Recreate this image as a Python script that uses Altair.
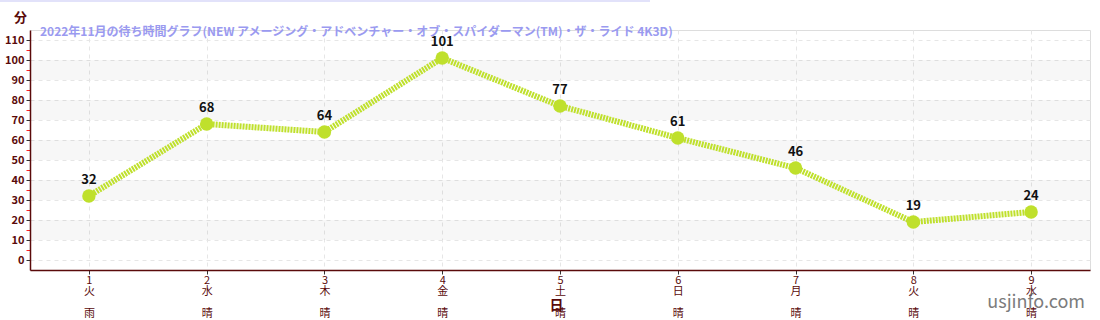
import altair as alt
import pandas as pd

days = [1, 2, 3, 4, 5, 6, 7, 8, 9]
weekdays = ["火", "水", "木", "金", "土", "日", "月", "火", "水"]
weather = ["雨", "晴", "晴", "晴", "晴", "晴", "晴", "晴", "晴"]
waits = [32, 68, 64, 101, 77, 61, 46, 19, 24]

band_lo = [10, 30, 50, 70, 90]
band_hi = [20, 40, 60, 80, 100]

title_text = "2022年11月の待ち時間グラフ(NEW アメージング・アドベンチャー・オブ・スパイダーマン(TM)・ザ・ライド 4K3D)"

FONT = "Noto Sans CJK JP"
AXIS_COL = "#5a0a0a"
LINE_COL = "#bfe02c"

df = pd.DataFrame({"day": days, "wait": waits})
bands = pd.DataFrame({"lo": band_lo, "hi": band_hi, "x0": [0.5] * 5, "x1": [9.5] * 5})

wd_js = "[" + ",".join(f"'{w}'" for w in weekdays) + "]"
wx_js = "[" + ",".join(f"'{w}'" for w in weather) + "]"

xscale = alt.Scale(domain=[0.5, 9.5], nice=False, zero=False)
yscale = alt.Scale(domain=[-5, 115], nice=False, zero=False)

x_axis = alt.Axis(
    values=days,
    labelExpr=f"[format(datum.value,'d'), {wd_js}[datum.value-1], '\u200b', {wx_js}[datum.value-1]]",
    labelLineHeight=11,
    labelFontSize=11,
    labelColor=AXIS_COL,
    labelFont=FONT,
    labelPadding=0,
    labelBaseline="top",
    labelOverlap=False,
    tickColor="#333333",
    tickSize=4,
    domainColor=AXIS_COL,
    domainWidth=1.5,
    grid=True,
    gridColor="#e6e6e6",
    gridDash=[4, 4],
    title="日",
    titleFont=FONT,
    titleFontSize=14,
    titleFontWeight="bold",
    titleColor=AXIS_COL,
    titleX=526,
    titleY=35,
    titleBaseline="middle",
)

y_values = list(range(0, 111, 5))
y_axis = alt.Axis(
    values=y_values,
    labelExpr="datum.value % 10 == 0 ? datum.label : ''",
    labelOverlap=False,
    labelFont=FONT,
    labelFontSize=11,
    labelFontWeight="bold",
    labelColor=AXIS_COL,
    labelPadding=2,
    tickColor={"expr": "datum.value % 10 == 0 ? '#333333' : '#ff2020'"},
    tickSize=4,
    domainColor=AXIS_COL,
    domainWidth=1.5,
    grid=True,
    gridColor={"expr": "datum.value % 10 == 0 ? '#e6e6e6' : 'transparent'"},
    gridDash=[4, 4],
    title="分",
    titleFont=FONT,
    titleFontSize=13,
    titleFontWeight="bold",
    titleColor=AXIS_COL,
    titleAngle=0,
    titleAlign="center",
    titleBaseline="middle",
    titleX=-10,
    titleY=-13,
)

band_layer = alt.Chart(bands).mark_rect(fill="#000000", opacity=0.03).encode(
    x=alt.X("x0:Q", scale=xscale, axis=x_axis),
    x2="x1:Q",
    y=alt.Y("lo:Q", scale=yscale, axis=y_axis),
    y2="hi:Q",
)

base = alt.Chart(df).encode(
    x=alt.X("day:Q", scale=xscale, axis=x_axis),
    y=alt.Y("wait:Q", scale=yscale, axis=y_axis),
)

line = base.mark_line(color=LINE_COL, strokeWidth=6, strokeDash=[2, 1])
points = base.mark_circle(color=LINE_COL, size=180, opacity=1)
labels = base.mark_text(
    dy=-16, font=FONT, fontSize=13, fontWeight="bold", color="#111111"
).encode(text="wait:Q")

top_line = alt.Chart(df).mark_rule(color="#e2e2fa", strokeWidth=2, clip=False).encode(
    x=alt.value(-30), x2=alt.value(620), y=alt.value(-29)
)

watermark = alt.Chart(pd.DataFrame({"t": ["usjinfo.com"]})).mark_text(
    font=FONT, fontSize=18, color="#666666", opacity=0.85, align="right", baseline="middle"
).encode(text="t:N", x=alt.value(1055), y=alt.value(33 + 240))

chart = (
    alt.layer(band_layer, line, points, labels, top_line, watermark)
    .properties(
        width=1060,
        height=240,
        padding={"left": 30, "top": 30, "right": 10, "bottom": 50},
        autosize=alt.AutoSizeParams(type="none"),
        title=alt.TitleParams(
            text=title_text,
            anchor="start",
            frame="group",
            dx=10,
            dy=39,
            offset=0,
            font=FONT,
            fontSize=12,
            fontWeight="bold",
            color="#9a9af0",
        ),
    )
    .configure_view(stroke=None)
    .configure(background="white")
)

chart.save("out.html", embed_options={"renderer": "svg", "actions": False})
